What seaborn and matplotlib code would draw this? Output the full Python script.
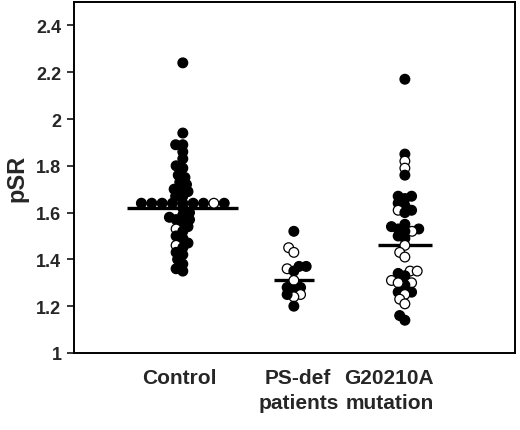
import matplotlib
matplotlib.use("Agg")
import matplotlib.pyplot as plt
import numpy as np
import pandas as pd
import seaborn as sns


GROUPS = ["Control", "PS-def", "G20210A"]
GROUP_LABELS = ["Control", "PS-def\npatients", "G20210A\nmutation"]

# pSR values; "F" = filled dot, "O" = open dot
control_values = [
  2.24, 1.94, 1.89, 1.89, 1.86, 1.83, 1.80, 1.79, 1.76, 1.75, 1.73, 1.72,
  1.70, 1.70, 1.69, 1.67, 1.67, 1.62, 1.60, 1.59, 1.58, 1.57, 1.57, 1.56,
  1.54, 1.53, 1.52, 1.50, 1.49, 1.47, 1.46, 1.45, 1.43, 1.42, 1.40, 1.38,
  1.36, 1.35,
]
control_fill = [
  "F", "F", "F", "F", "F", "F", "F", "F", "F", "F", "F", "F",
  "F", "F", "F", "F", "F", "F", "F", "F", "F", "F", "F", "F",
  "F", "O", "F", "F", "F", "F", "O", "F", "F", "F", "F", "F",
  "F", "F",
]
# the horizontal row of dots just above the control line
control_row_values = [1.64, 1.64, 1.64, 1.64, 1.64, 1.64, 1.64, 1.64, 1.64]
control_row_fill = ["F", "F", "F", "F", "F", "F", "O", "F", "F"]

psdef_values = [
  1.52, 1.45, 1.43, 1.37, 1.37, 1.36, 1.35, 1.31, 1.28, 1.28, 1.27, 1.25,
  1.24, 1.25, 1.20,
]
psdef_fill = [
  "F", "O", "O", "F", "F", "O", "F", "O", "F", "F", "F", "O",
  "O", "F", "F",
]

g20210a_values = [
  2.17, 1.85, 1.82, 1.79, 1.76, 1.67, 1.67, 1.66, 1.64, 1.63, 1.61, 1.61,
  1.60, 1.55, 1.54, 1.53, 1.53, 1.52, 1.52, 1.50, 1.49, 1.46, 1.43, 1.41,
  1.35, 1.35, 1.34, 1.33, 1.31, 1.30, 1.29, 1.30, 1.26, 1.26, 1.25, 1.23,
  1.21, 1.16, 1.14,
]
g20210a_fill = [
  "F", "F", "O", "O", "F", "F", "F", "F", "F", "F", "O", "F",
  "F", "F", "F", "F", "F", "O", "F", "F", "F", "O", "O", "O",
  "O", "O", "F", "F", "O", "O", "F", "O", "F", "F", "O", "O",
  "O", "F", "F",
]

group_lines = [1.62, 1.31, 1.46]

y_ticks = [1.0, 1.2, 1.4, 1.6, 1.8, 2.0, 2.2, 2.4]
y_tick_labels = ["1", "1.2", "1.4", "1.6", "1.8", "2", "2.2", "2.4"]

FILL_COLORS = {"F": "black", "O": "white"}
DOT_SIZE = 7.0          # displayed dot diameter, points
LINE_HALF_WIDTHS = [0.5, 0.18, 0.245]
LABEL_POSITIONS = [-0.03, 1.04, 1.86]
XLIM = (-0.98, 2.99)


def build_frame(values_by_group, fills_by_group):
  rows = []
  for group, values, fills in zip(GROUPS, values_by_group, fills_by_group):
    for v, f in zip(values, fills):
      rows.append({"group": group, "psr": v, "fill": f})
  return pd.DataFrame(rows)


def draw_swarm(ax, df, spacing_size):
  """Swarm with a given spacing, then show the dots at the full size."""
  n_before = len(ax.collections)
  sns.swarmplot(
    data=df, x="group", y="psr", hue="fill", order=GROUPS,
    hue_order=["F", "O"], palette=FILL_COLORS, size=spacing_size,
    edgecolor="black", linewidth=0.9, legend=False, zorder=3, ax=ax,
  )
  ax.set_xlim(*XLIM)
  ax.set_ylim(1.0, 2.5)
  ax.figure.canvas.draw()
  for coll in ax.collections[n_before:]:
    coll.__dict__.pop("draw", None)
    coll.set_sizes([DOT_SIZE ** 2])


def main() -> None:
  sns.set_style("ticks")
  plt.rcParams["font.family"] = ["Liberation Sans", "DejaVu Sans"]
  plt.rcParams["font.weight"] = "bold"

  fig = plt.figure(figsize=(5.2, 4.31), dpi=100)
  ax = fig.add_axes([0.1423, 0.1787, 0.8477, 0.8143])

  main_df = build_frame(
    [control_values, psdef_values, g20210a_values],
    [control_fill, psdef_fill, g20210a_fill],
  )
  row_df = build_frame([control_row_values, [], []], [control_row_fill, [], []])

  draw_swarm(ax, main_df, 4.0)
  draw_swarm(ax, row_df, 6.2)

  centers = np.arange(len(GROUPS))
  half = np.array(LINE_HALF_WIDTHS)
  ax.hlines(group_lines, centers - half, centers + half, color="black",
            linewidth=2.4, zorder=2)

  ax.set_xlim(*XLIM)
  ax.set_ylim(1.0, 2.5)
  ax.set_xticks(LABEL_POSITIONS)
  ax.set_xticklabels(GROUP_LABELS, fontsize=15, fontweight="bold", linespacing=1.35)
  ax.tick_params(axis="x", length=0, pad=11)
  ax.set_yticks(y_ticks)
  ax.set_yticklabels(y_tick_labels, fontsize=13, fontweight="bold")
  ax.tick_params(axis="y", length=5, width=1.3, pad=4, direction="out")
  ax.set_xlabel("")
  ax.set_ylabel("pSR", fontsize=17, fontweight="bold", labelpad=6)

  for spine in ax.spines.values():
    spine.set_visible(True)
    spine.set_linewidth(1.4)
    spine.set_color("black")

  fig.savefig("out.png", dpi=100)
  plt.close(fig)


if __name__ == "__main__":
  main()
